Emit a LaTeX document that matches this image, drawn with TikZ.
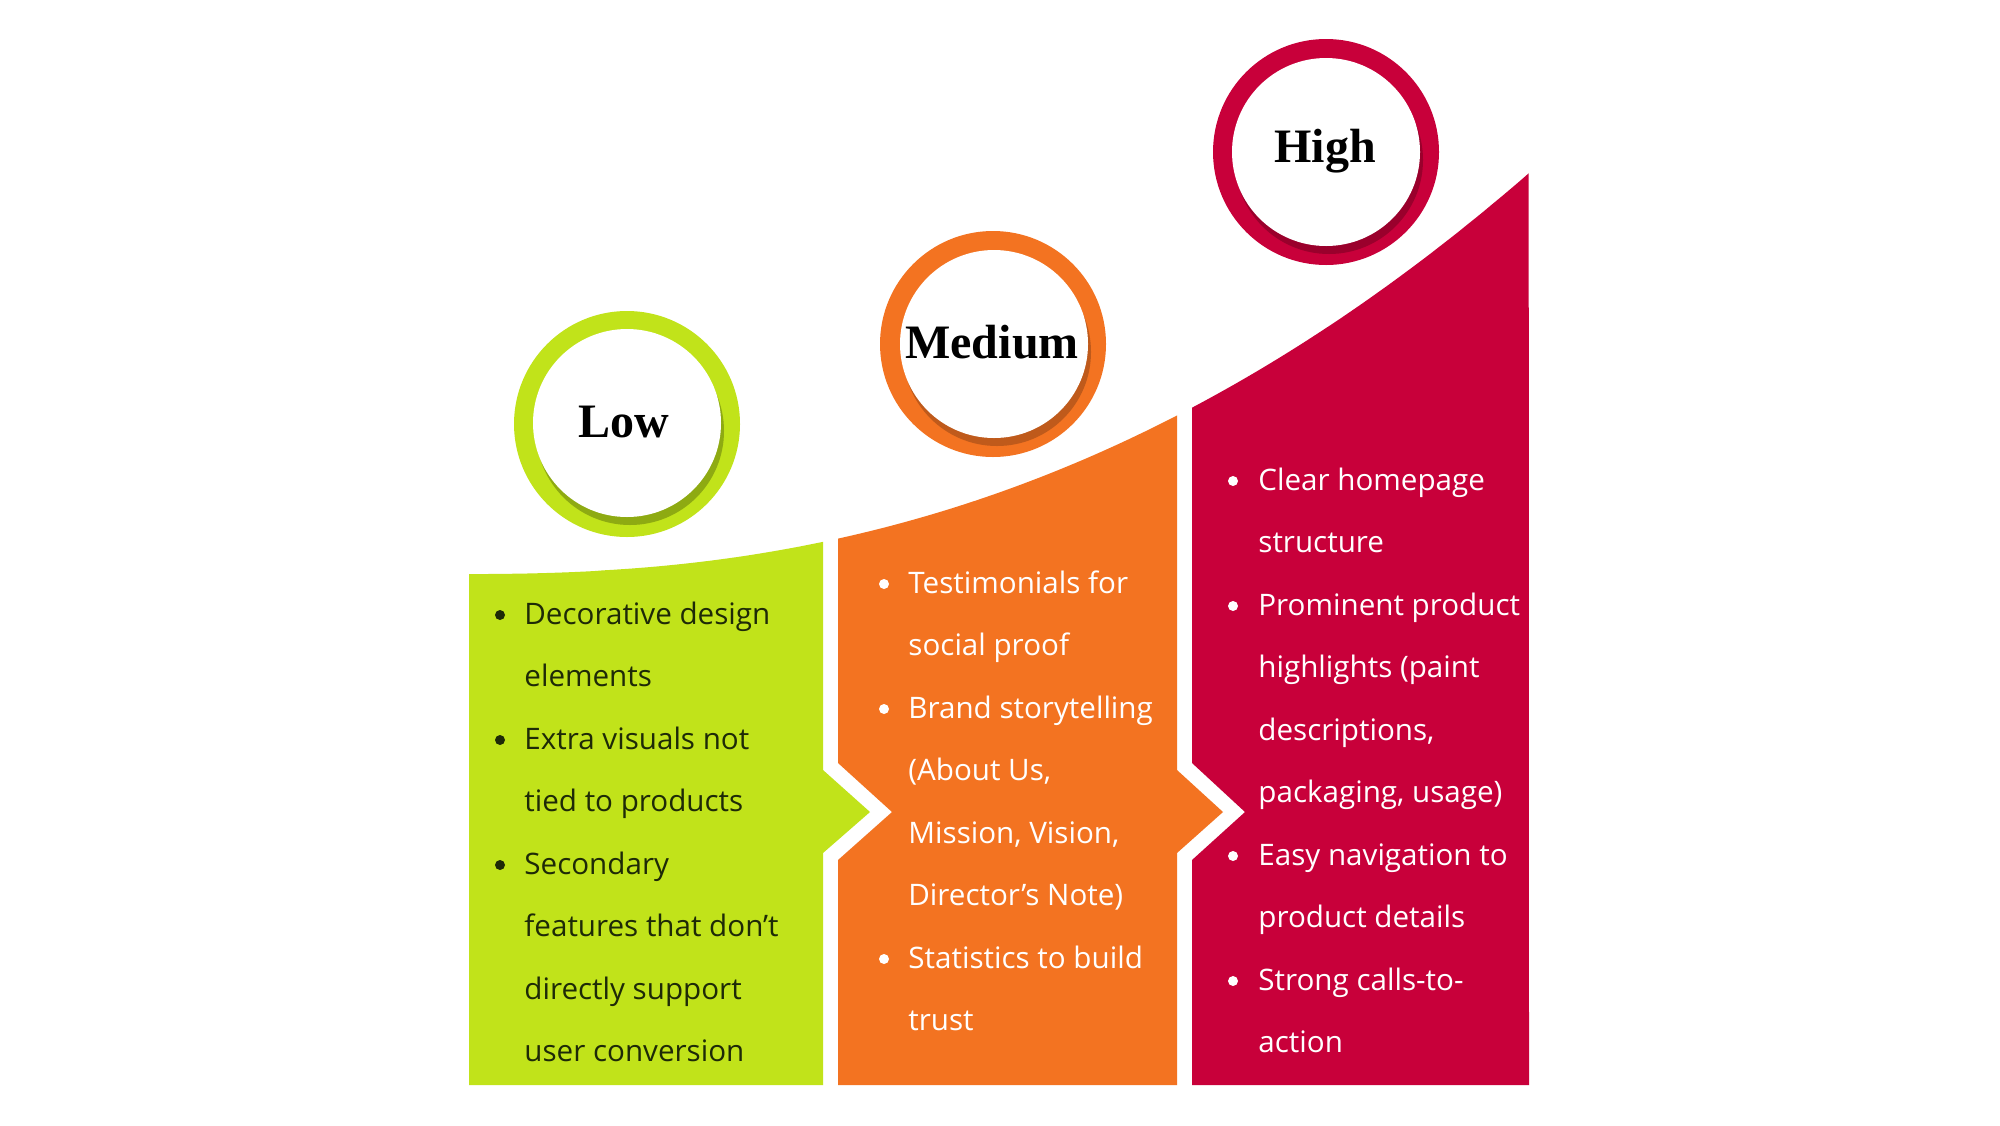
\documentclass[tikz,border=0pt]{standalone}
\usepackage{fontspec}
\setmainfont{Open Sans}
\newfontfamily\headfont{Liberation Serif}
\definecolor{gcol}{HTML}{C1E31A}
\definecolor{gdark}{HTML}{8EAA12}
\definecolor{ocol}{HTML}{F37321}
\definecolor{odark}{HTML}{BF5A1B}
\definecolor{rcol}{HTML}{C8003A}
\definecolor{rdark}{HTML}{9A002C}
\definecolor{gtext}{HTML}{1E2A07}
\begin{document}
\begin{tikzpicture}[x=0.5pt,y=-0.5pt,
  body/.style={anchor=base west, inner sep=0pt, font=\fontsize{14.8pt}{18pt}\selectfont},
  gtxt/.style={body, text=gtext},
  wtxt/.style={body, text=white},
  head/.style={anchor=base, inner sep=0pt, font=\headfont\bfseries\fontsize{24pt}{28pt}\selectfont},
  bul/.style={circle, inner sep=0pt, minimum size=5pt},
  ring/.style={circle, inner sep=0pt, minimum size=113pt},
  disk/.style={circle, inner sep=0pt, minimum size=94pt}]
\useasboundingbox (0,0) rectangle (2000,1125);
\fill[white] (0,0) rectangle (2000,1125);
% panels clipped under the rising curve
\begin{scope}
\clip (469,1085) -- (469,574) -- plot[domain=0.001:1, samples=120] ({469+1060*\x},{574-401*(\x)^2.3}) -- (1529,1085) -- cycle;
\fill[gcol] (469,0) -- (823,0) -- (823,770) -- (870,812) -- (823,853) -- (823,1085) -- (469,1085) -- cycle;
\fill[ocol] (838,0) -- (1177,0) -- (1177,770) -- (1223,812) -- (1177,853) -- (1177,1085) -- (838,1085) -- (838,860) -- (892,812) -- (838,763) -- cycle;
\fill[rcol] (1192,0) -- (1529,0) -- (1529,1085) -- (1192,1085) -- (1192,860) -- (1245,812) -- (1192,763) -- cycle;
\end{scope}
% circles
\node[ring, fill=gcol] (lowring) at (627,424) {};
\node[disk, fill=gdark] (lowsh) at (630,431) {};
\node[disk, fill=white] (lowdisk) at (627,423) {};
\node[head] (lowt) at (624,437) {Low};
\node[ring, fill=ocol] (medring) at (993,344) {};
\node[disk, fill=odark] (medsh) at (997,352) {};
\node[disk, fill=white] (meddisk) at (994,344) {};
\node[head] (medt) at (992,358) {Medium};
\node[ring, fill=rcol] (highring) at (1326,152) {};
\node[disk, fill=rdark] (highsh) at (1329,160) {};
\node[disk, fill=white] (highdisk) at (1326,152) {};
\node[head] (hight) at (1325,162) {High};
% green text
\foreach \t [count=\i] in {{Decorative design},{elements},{Extra visuals not},{tied to products},{Secondary},{features that don’t},{directly support},{user conversion}}
  \node[gtxt] (g\i) at (524,{624+62.5*(\i-1)}) {\t};
\foreach \i in {1,3,5}
  \node[bul, fill=gtext] (gb\i) at (500,{615+62.5*(\i-1)}) {};
% orange text
\foreach \t [count=\i] in {{Testimonials for},{social proof},{Brand storytelling},{(About Us,},{Mission, Vision,},{Director’s Note)},{Statistics to build},{trust}}
  \node[wtxt] (o\i) at (908,{593+62.5*(\i-1)}) {\t};
\foreach \i in {1,3,7}
  \node[bul, fill=white] (ob\i) at (884,{584+62.5*(\i-1)}) {};
% red text
\foreach \t [count=\i] in {{Clear homepage},{structure},{Prominent product},{highlights (paint},{descriptions,},{packaging, usage)},{Easy navigation to},{product details},{Strong calls-to-},{action}}
  \node[wtxt] (r\i) at (1258,{490+62.5*(\i-1)}) {\t};
\foreach \i in {1,3,7,9}
  \node[bul, fill=white] (rb\i) at (1233,{481+62.5*(\i-1)}) {};
\end{tikzpicture}
\end{document}
